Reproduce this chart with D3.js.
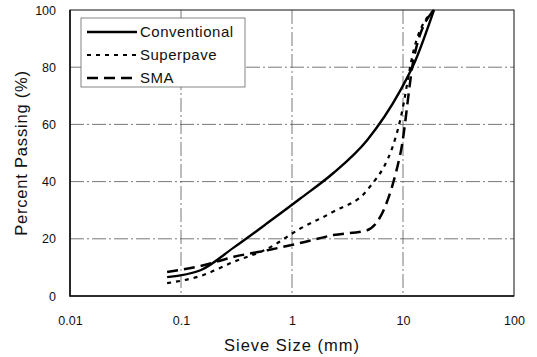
<!DOCTYPE html>
<html>
<head>
<meta charset="utf-8">
<script src="https://cdn.jsdelivr.net/npm/d3@7"></script>
<style>
body { margin: 0; background: #fff; }
text { font-family: "Liberation Sans", Arial, sans-serif; fill: #111; }
</style>
</head>
<body>
<div id="chart"></div>
<script>
// Sieve sizes (mm) and percent passing per mix
var sieves = [0.075, 0.15, 0.3, 0.6, 1.18, 2.36, 4.75, 9.5, 12.5, 19];
var conventional = [6.6, 9, 17, 25.5, 34, 43, 54.5, 72, 81, 100];
var superpave = [4.5, 7, 12, 16.5, 23.5, 29.5, 37, 62, 86, 100];
var sma = [8.4, 10.5, 13.7, 16, 18.5, 21.3, 23, 50, 83, 100];
var seriesNames = ["Conventional", "Superpave", "SMA"];
var xTicks = [0.01, 0.1, 1, 10, 100];
var yTicks = [0, 20, 40, 60, 80, 100];

var svgWdt = 537, svgHgt = 357;
var margins = { top: 10, right: 23, bottom: 61, left: 70 };
var chtWdt = svgWdt - margins.left - margins.right;
var chtHgt = svgHgt - margins.top - margins.bottom;

var svg = d3.select("#chart").append("svg")
    .attr("width", svgWdt)
    .attr("height", svgHgt);

var chtGrp = svg.append("g")
    .attr("transform", `translate(${margins.left}, ${margins.top})`);

var x = d3.scaleLog().domain([0.01, 100]).range([0, chtWdt]);
var y = d3.scaleLinear().domain([0, 100]).range([chtHgt, 0]);

// grid lines, dash-dot grey
chtGrp.selectAll(".hgrid").data(yTicks.slice(1, -1)).enter()
    .append("line")
    .attr("x1", 0).attr("x2", chtWdt)
    .attr("y1", d => y(d)).attr("y2", d => y(d))
    .attr("stroke", "#555").attr("stroke-width", 0.8)
    .attr("stroke-dasharray", "14,3,2,3");
chtGrp.selectAll(".vgrid").data(xTicks.slice(1, -1)).enter()
    .append("line")
    .attr("y1", 0).attr("y2", chtHgt)
    .attr("x1", d => x(d)).attr("x2", d => x(d))
    .attr("stroke", "#555").attr("stroke-width", 0.8)
    .attr("stroke-dasharray", "14,3,2,3");

// frame
chtGrp.append("rect")
    .attr("width", chtWdt).attr("height", chtHgt)
    .attr("fill", "none").attr("stroke", "#111").attr("stroke-width", 1);
chtGrp.append("path")
    .attr("d", `M0,0V${chtHgt}H${chtWdt}`)
    .attr("fill", "none").attr("stroke", "#111").attr("stroke-width", 1.6);

// axes (labels only)
var botAx = chtGrp.append("g")
    .attr("transform", `translate(0, ${chtHgt})`)
    .call(d3.axisBottom(x).tickValues(xTicks).tickFormat(d => String(d)).tickSize(0).tickPadding(20));
var lftAx = chtGrp.append("g")
    .call(d3.axisLeft(y).tickValues(yTicks).tickSize(0).tickPadding(14));
[botAx, lftAx].forEach(a => {
    a.select(".domain").remove();
    a.selectAll("text").attr("font-size", 12.5).attr("fill", "#111")
        .attr("font-family", "'Liberation Sans', Arial, sans-serif");
});

// series lines
var styles = [
    { dash: null, width: 2.4 },
    { dash: "4,5", width: 2.2 },
    { dash: "11,6", width: 2.5 }
];
var allSeries = [conventional, superpave, sma];
var line = d3.line()
    .x((d, i) => x(sieves[i]))
    .y(d => y(d))
    .curve(d3.curveMonotoneX);

allSeries.forEach((vals, k) => {
    chtGrp.append("path")
        .datum(vals)
        .attr("d", line)
        .attr("fill", "none")
        .attr("stroke", "#000")
        .attr("stroke-width", styles[k].width)
        .attr("stroke-linejoin", "round")
        .attr("stroke-dasharray", styles[k].dash);
});

// legend
var leg = svg.append("g").attr("transform", "translate(81, 18)");
leg.append("rect")
    .attr("width", 164).attr("height", 69)
    .attr("fill", "#fff").attr("stroke", "#666").attr("stroke-width", 0.8);
seriesNames.forEach((name, k) => {
    var ly = 14 + k * 23;
    leg.append("line")
        .attr("x1", 6).attr("x2", 56)
        .attr("y1", ly).attr("y2", ly)
        .attr("stroke", "#000")
        .attr("stroke-width", styles[k].width)
        .attr("stroke-dasharray", styles[k].dash);
    leg.append("text")
        .attr("x", 59).attr("y", ly + 5)
        .attr("font-size", 15)
        .attr("letter-spacing", 0.5)
        .text(name);
});

// axis titles
svg.append("text")
    .attr("x", margins.left + chtWdt / 2).attr("y", 351)
    .attr("text-anchor", "middle")
    .attr("font-size", 16.5).attr("letter-spacing", 1)
    .text("Sieve Size (mm)");
svg.append("text")
    .attr("transform", `translate(27, ${margins.top + chtHgt / 2}) rotate(-90)`)
    .attr("text-anchor", "middle")
    .attr("font-size", 16.5).attr("letter-spacing", 0.8)
    .text("Percent Passing (%)");
</script>
</body>
</html>
